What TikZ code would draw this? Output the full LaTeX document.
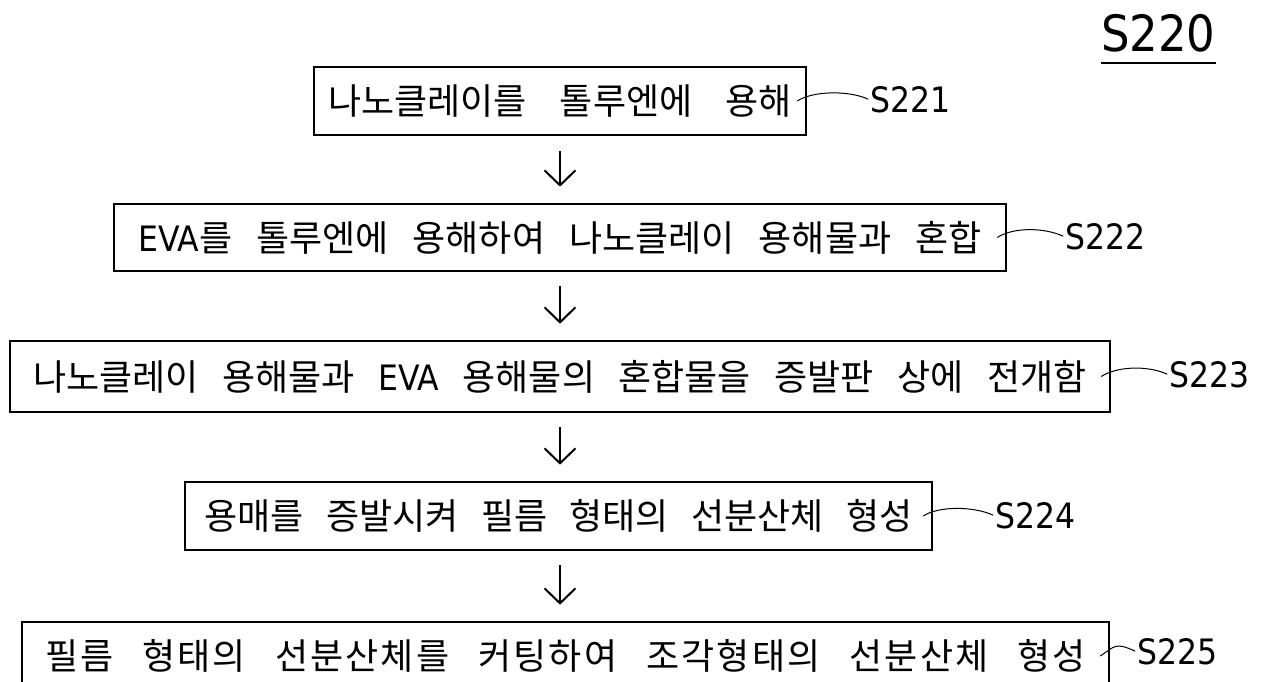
\documentclass[tikz,border=0pt]{standalone}
\usepackage{fontspec}
\newfontfamily\kr{Noto Sans CJK KR}
\newfontfamily\krw[LetterSpace=6]{Noto Sans CJK KR}
\newfontfamily\lab{DejaVu Sans Condensed}
\usetikzlibrary{arrows.meta,calc}
\begin{document}
\begin{tikzpicture}[x=1pt,y=-1pt,
  box/.style={draw, line width=2.6pt, inner sep=0pt,
    font=\kr\fontsize{36}{42}\selectfont},
  wsp/.style={execute at begin node={\spaceskip=#1\relax}},
  lbl/.style={anchor=west, inner sep=0pt, font=\lab\fontsize{35}{40}\selectfont},
  lead/.style={line width=1pt, shorten >=2pt},
  arr/.style={line width=2pt, -{Straight Barb[length=15pt,width=31pt,line width=2pt]}}]
\useasboundingbox (0,0) rectangle (1262,682);
\clip (0,0) rectangle (1262,682);
\newcommand{\eva}{{\lab\fontsize{35}{40}\selectfont EVA}}
\coordinate (ax) at (560,0);
% title
\node[anchor=base west, inner sep=0pt, font=\lab\fontsize{50}{60}\selectfont] (t) at (1101,52) {S220};
\draw[line width=2pt] ([yshift=-11pt]t.base west) -- ([yshift=-11pt]t.base east);
% boxes
\node[box, wsp=33pt, minimum width=492pt, minimum height=68pt] (b1) at (560,101) {나노클레이를 톨루엔에 용해};
\node[box, wsp=24pt, minimum width=892pt, minimum height=67pt] (b2) at (560,237.5) {\eva 를 톨루엔에 용해하여 나노클레이 용해물과 혼합};
\node[box, wsp=23.5pt, minimum width=1100pt, minimum height=71pt] (b3) at (560,376.5) {나노클레이 용해물과 \eva\ 용해물의 혼합물을 증발판 상에 전개함};
\node[box, wsp=22.5pt, minimum width=747pt, minimum height=68pt] (b4) at (558.5,516) {용매를 증발시켜 필름 형태의 선분산체 형성};
\node[box, wsp=29pt, minimum width=1087pt, minimum height=68pt, font=\krw\fontsize{36}{42}\selectfont] (b5) at (565.5,656) {필름 형태의 선분산체를 커팅하여 조각형태의 선분산체 형성};
% labels
\node[lbl] (l1) at (870,100) {S221};
\node[lbl] (l2) at (1065,237) {S222};
\node[lbl] (l3) at (1169,375) {S223};
\node[lbl] (l4) at (995,516) {S224};
\node[lbl] (l5) at (1137,652) {S225};
% leaders
\foreach \i in {1,...,5}{
  \draw[lead] ([xshift=-10pt]b\i.east) .. controls +(15,-10) and +(-22,-10) .. (l\i.west);
}
% arrows
\draw[arr] ($(b1.south -| ax)+(0,15)$) -- ($(b2.north -| ax)+(0,-16)$);
\draw[arr] ($(b2.south -| ax)+(0,14)$) -- ($(b3.north -| ax)+(0,-16)$);
\draw[arr] ($(b3.south -| ax)+(0,14)$) -- ($(b4.north -| ax)+(0,-16)$);
\draw[arr] ($(b4.south -| ax)+(0,14)$) -- ($(b5.north -| ax)+(0,-16)$);
\end{tikzpicture}
\end{document}
